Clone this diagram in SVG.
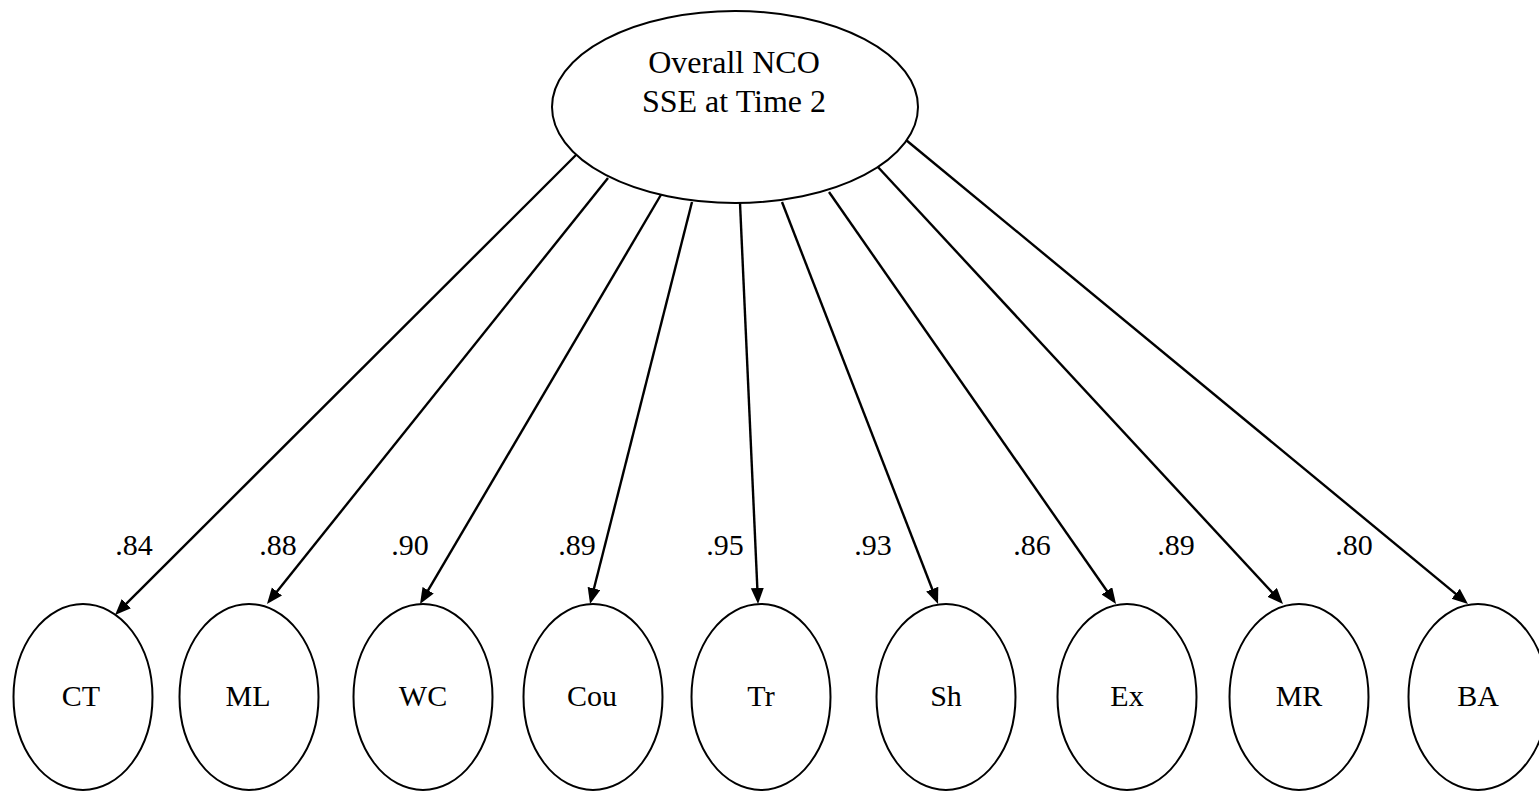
<svg xmlns="http://www.w3.org/2000/svg" width="1539" height="791" viewBox="0 0 1539 791">
  <style>
    .node { fill: #ffffff; stroke: #000000; stroke-width: 2; }
    .label { font-family: "Liberation Serif", "Times New Roman", serif; fill: #000000; text-anchor: middle; }
    .big { font-size: 32px; }
    .small { font-size: 30px; }
    .edge { stroke: #000000; stroke-width: 2.4; fill: none; marker-end: url(#arrow); }
  </style>
  <defs>
    <marker id="arrow" markerUnits="userSpaceOnUse" markerWidth="18" markerHeight="15" refX="6" refY="6.5" orient="auto">
      <path d="M0,0 L16,6.5 L0,13 z" fill="#000000"/>
    </marker>
  </defs>
  <rect width="1539" height="791" fill="#ffffff"/>

  <!-- loadings from the latent factor to each indicator -->
  <g id="connectors">
    <line class="edge" x1="576" y1="155" x2="122.1" y2="607.9"/>
    <line class="edge" x1="608" y1="178" x2="273.2" y2="596.2"/>
    <line class="edge" x1="662" y1="193" x2="425.1" y2="595.4"/>
    <line class="edge" x1="692" y1="202" x2="592.5" y2="594.3"/>
    <line class="edge" x1="740" y1="203" x2="757.6" y2="594"/>
    <line class="edge" x1="782" y1="202" x2="934.4" y2="594.7"/>
    <line class="edge" x1="829" y1="192" x2="1110.3" y2="595.8"/>
    <line class="edge" x1="877" y1="166" x2="1276.2" y2="596.7"/>
    <line class="edge" x1="906" y1="140" x2="1460.3" y2="597.6"/>
  </g>

  <g id="loadings">
    <text class="label small" x="134" y="555">.84</text>
    <text class="label small" x="278" y="555">.88</text>
    <text class="label small" x="410" y="555">.90</text>
    <text class="label small" x="577" y="555">.89</text>
    <text class="label small" x="725" y="555">.95</text>
    <text class="label small" x="873" y="555">.93</text>
    <text class="label small" x="1032" y="555">.86</text>
    <text class="label small" x="1176" y="555">.89</text>
    <text class="label small" x="1354" y="555">.80</text>
  </g>

  <g id="factor">
    <ellipse class="node" cx="735" cy="107" rx="183" ry="96"/>
    <text class="label big" x="734" y="73">Overall NCO</text>
    <text class="label big" x="734" y="112">SSE at Time 2</text>
  </g>

  <g id="node-CT">
    <ellipse class="node" cx="83" cy="697" rx="69.5" ry="93"/>
    <text class="label small" x="81" y="706">CT</text>
  </g>
  <g id="node-ML">
    <ellipse class="node" cx="249" cy="697" rx="69.5" ry="93"/>
    <text class="label small" x="248" y="706">ML</text>
  </g>
  <g id="node-WC">
    <ellipse class="node" cx="423" cy="697" rx="69.5" ry="93"/>
    <text class="label small" x="423" y="706">WC</text>
  </g>
  <g id="node-Cou">
    <ellipse class="node" cx="593" cy="697" rx="69.5" ry="93"/>
    <text class="label small" x="592" y="706">Cou</text>
  </g>
  <g id="node-Tr">
    <ellipse class="node" cx="761" cy="697" rx="69.5" ry="93"/>
    <text class="label small" x="761" y="706">Tr</text>
  </g>
  <g id="node-Sh">
    <ellipse class="node" cx="946" cy="697" rx="69.5" ry="93"/>
    <text class="label small" x="946" y="706">Sh</text>
  </g>
  <g id="node-Ex">
    <ellipse class="node" cx="1127" cy="697" rx="69.5" ry="93"/>
    <text class="label small" x="1127" y="706">Ex</text>
  </g>
  <g id="node-MR">
    <ellipse class="node" cx="1299" cy="697" rx="69.5" ry="93"/>
    <text class="label small" x="1299" y="706">MR</text>
  </g>
  <g id="node-BA">
    <ellipse class="node" cx="1478" cy="697" rx="69.5" ry="93"/>
    <text class="label small" x="1478" y="706">BA</text>
  </g>
</svg>
